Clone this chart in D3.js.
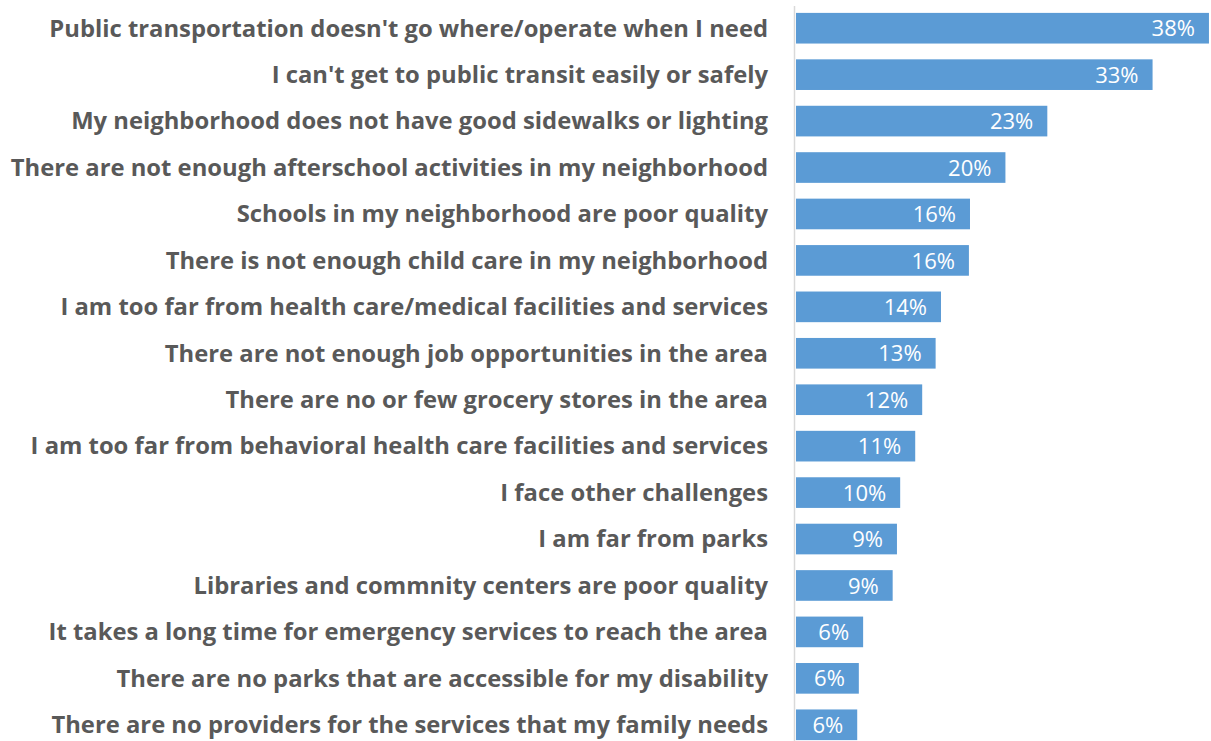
<!DOCTYPE html>
<html>
<head>
<meta charset="utf-8">
<script src="https://cdn.jsdelivr.net/npm/d3@7"></script>
<style>
  body { margin: 0; background: #fff; }
  svg { display: block; }
</style>
</head>
<body>
<svg id="chart"></svg>
<script>
// chart size
var width = 1211;
var height = 741;

var categories = [
  "Public transportation doesn't go where/operate when I need",
  "I can't get to public transit easily or safely",
  "My neighborhood does not have good sidewalks or lighting",
  "There are not enough afterschool activities in my neighborhood",
  "Schools in my neighborhood are poor quality",
  "There is not enough child care in my neighborhood",
  "I am too far from health care/medical facilities and services",
  "There are not enough job opportunities in the area",
  "There are no or few grocery stores in the area",
  "I am too far from behavioral health care facilities and services",
  "I face other challenges",
  "I am far from parks",
  "Libraries and commnity centers are poor quality",
  "It takes a long time for emergency services to reach the area",
  "There are no parks that are accessible for my disability",
  "There are no providers for the services that my family needs"
];

// percent values
var values = [38.45, 33.2, 23.4, 19.5, 16.2, 16.1, 13.5, 13.0, 11.75, 11.1, 9.7, 9.4, 9.0, 6.25, 5.85, 5.7];

var data = categories.map(function(c, i) { return { label: c, value: values[i] }; });

var left = 796;   // where bars start
var labelX = 768; // right edge of category labels

var svg = d3.select('#chart')
  .attr('width', width)
  .attr('height', height);

var xScale = d3.scaleLinear()
  .domain([0, 40])
  .range([left, left + 429.6]);

var yScale = d3.scaleBand()
  .domain(categories)
  .range([5, 748])
  .paddingInner(0.34)
  .paddingOuter(0.17);

// vertical axis line
svg.append('line')
  .attr('x1', 794.5)
  .attr('x2', 794.5)
  .attr('y1', 6)
  .attr('y2', height)
  .attr('stroke', '#d9d9d9')
  .attr('stroke-width', 1.5);

// bars
svg.selectAll('rect.bar')
  .data(data)
  .enter()
  .append('rect')
    .attr('class', 'bar')
    .attr('x', xScale(0))
    .attr('y', d => yScale(d.label))
    .attr('width', d => xScale(d.value) - xScale(0))
    .attr('height', yScale.bandwidth())
    .style('fill', '#5b9bd5');

// category labels
svg.selectAll('text.cat')
  .data(data)
  .enter()
  .append('text')
    .attr('class', 'cat')
    .attr('x', labelX)
    .attr('y', d => yScale(d.label) + yScale.bandwidth() / 2)
    .attr('dy', '0.35em')
    .attr('text-anchor', 'end')
    .style('font-family', '"Open Sans", sans-serif')
    .style('font-weight', 'bold')
    .style('font-size', '23.8px')
    .style('fill', '#595959')
    .text(d => d.label);

// value labels inside bars
svg.selectAll('text.val')
  .data(data)
  .enter()
  .append('text')
    .attr('class', 'val')
    .attr('x', d => xScale(d.value) - 14)
    .attr('y', d => yScale(d.label) + yScale.bandwidth() / 2)
    .attr('dy', '0.37em')
    .attr('text-anchor', 'end')
    .style('font-family', '"Open Sans", sans-serif')
    .style('font-size', '22px')
    .style('fill', '#ffffff')
    .text(d => Math.round(d.value) + '%');
</script>
</body>
</html>
